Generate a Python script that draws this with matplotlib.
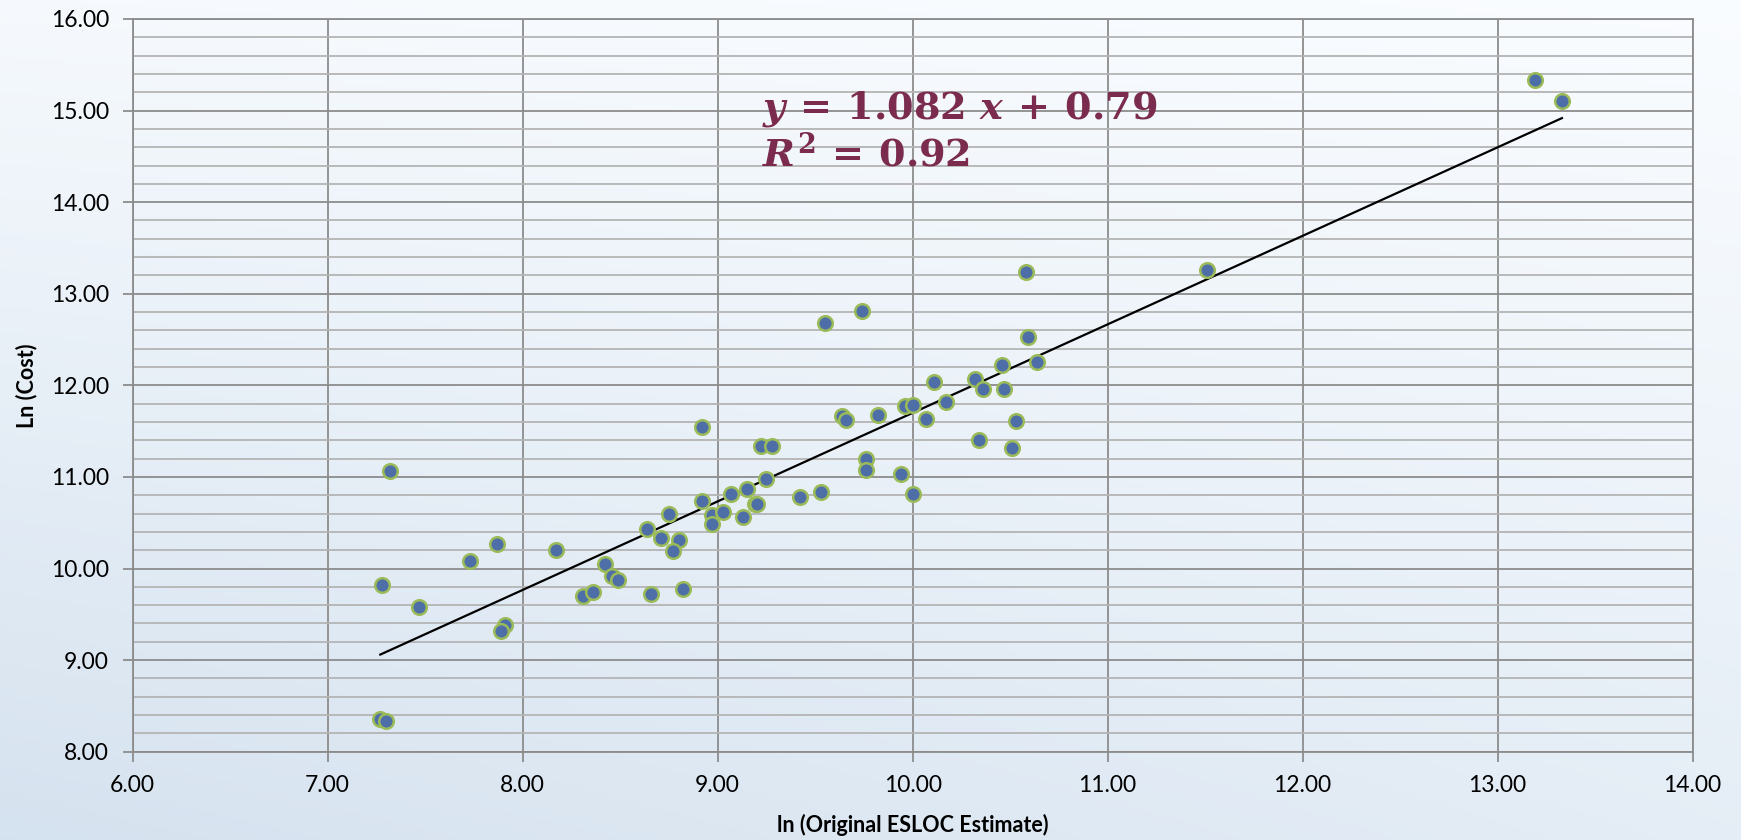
import numpy as np
import matplotlib.pyplot as plt
from matplotlib.ticker import MultipleLocator, FormatStrFormatter

# ln(原始ESLOC估算) 与 ln(成本)
esloc = [7.32, 7.28, 7.47, 7.73, 7.87, 7.91, 7.89, 7.27, 7.30, 8.17,
         8.31, 8.36, 8.42, 8.46, 8.49, 8.66, 8.82, 8.64, 8.71, 8.75,
         8.80, 8.77, 8.92, 8.97, 8.97, 9.03, 8.92, 9.22, 9.28, 9.25,
         9.15, 9.07, 9.13, 9.19, 9.20, 9.42, 9.53, 9.64, 9.66, 9.82,
         9.76, 9.76, 9.94, 10.00, 9.96, 10.00, 10.07, 10.11, 10.17, 10.32,
         10.36, 10.46, 10.47, 10.64, 10.53, 10.34, 10.51, 9.55, 9.74, 10.58,
         10.59, 11.51, 13.19, 13.33]
cost = [11.06, 9.82, 9.58, 10.08, 10.27, 9.38, 9.32, 8.36, 8.33, 10.20,
        9.70, 9.74, 10.05, 9.92, 9.88, 9.72, 9.78, 10.43, 10.33, 10.60,
        10.31, 10.19, 10.74, 10.58, 10.49, 10.62, 11.54, 11.34, 11.34, 10.98,
        10.87, 10.81, 10.56, 10.70, 10.71, 10.78, 10.84, 11.66, 11.62, 11.68,
        11.20, 11.08, 11.03, 10.81, 11.77, 11.79, 11.63, 12.04, 11.82, 12.07,
        11.96, 12.22, 11.96, 12.25, 11.61, 11.40, 11.32, 12.68, 12.81, 13.24,
        12.53, 13.26, 15.33, 15.11]

eq_text = ('$y\\,=\\,1.082\\ x\\,+\\,0.79$\n'
           '$R^2\\,=\\,0.92$')

plt.rcParams['font.family'] = ['Lato', 'DejaVu Sans']
plt.rcParams['mathtext.fontset'] = 'custom'
plt.rcParams['mathtext.rm'] = 'DejaVu Serif:bold'
plt.rcParams['mathtext.it'] = 'DejaVu Serif:bold:italic'
plt.rcParams['mathtext.bf'] = 'DejaVu Serif:bold'

fig = plt.figure(figsize=(17.41, 8.40), dpi=100)

# 背景渐变
bg = fig.add_axes([0, 0, 1, 1], zorder=-10)
gx, gy = np.meshgrid(np.linspace(0, 1, 300), np.linspace(0, 1, 200))
t = 0.8 * gy * (1 - 0.35 * gx) + 0.1 * (1 - gx)
c0 = np.array([0.98, 0.99, 1.0])
c1 = np.array([0.82, 0.875, 0.93])
img = c0 + (c1 - c0) * t[..., None]
bg.imshow(img, aspect='auto', extent=[0, 1, 0, 1], origin='upper')
bg.axis('off')

ax = fig.add_axes([0.0762, 0.1051, 0.8960, 0.8723])
ax.set_facecolor('none')

ax.set_xlim(6, 14)
ax.set_ylim(8, 16)
ax.xaxis.set_major_locator(MultipleLocator(1))
ax.yaxis.set_major_locator(MultipleLocator(1))
ax.yaxis.set_minor_locator(MultipleLocator(0.2))
ax.xaxis.set_major_formatter(FormatStrFormatter('%.2f'))
ax.yaxis.set_major_formatter(FormatStrFormatter('%.2f'))

ax.grid(which='major', color='#8c8c8c', linewidth=1.3)
ax.grid(which='minor', axis='y', color='#b4b4b4', linewidth=1.3)
ax.set_axisbelow(True)
for s in ax.spines.values():
    s.set_color('#8c8c8c')
    s.set_linewidth(1.3)

ax.tick_params(which='major', length=7, width=1.3, color='#8c8c8c',
               labelsize=16.5, pad=10)
ax.tick_params(which='minor', length=0)

# 散点
ax.scatter(esloc, cost, s=110, color='#4e6ea8', edgecolor='#9bbb59',
           linewidth=1.8, zorder=3)

# 趋势线
k, b = np.polyfit(esloc, cost, 1)
xs = np.array([min(esloc), max(esloc)])
ax.plot(xs, k * xs + b, color='black', linewidth=1.6, zorder=2)

ax.text(9.23, 15.24, eq_text, fontsize=27.5, color='#7b2c4e', va='top',
        ha='left', linespacing=1.15)

ax.set_xlabel('ln (Original ESLOC Estimate)', fontsize=15.5, fontweight='bold',
              labelpad=13)
ax.set_ylabel('Ln (Cost)', fontsize=15.5, fontweight='bold', labelpad=10)

plt.savefig('out.png', dpi=100)
